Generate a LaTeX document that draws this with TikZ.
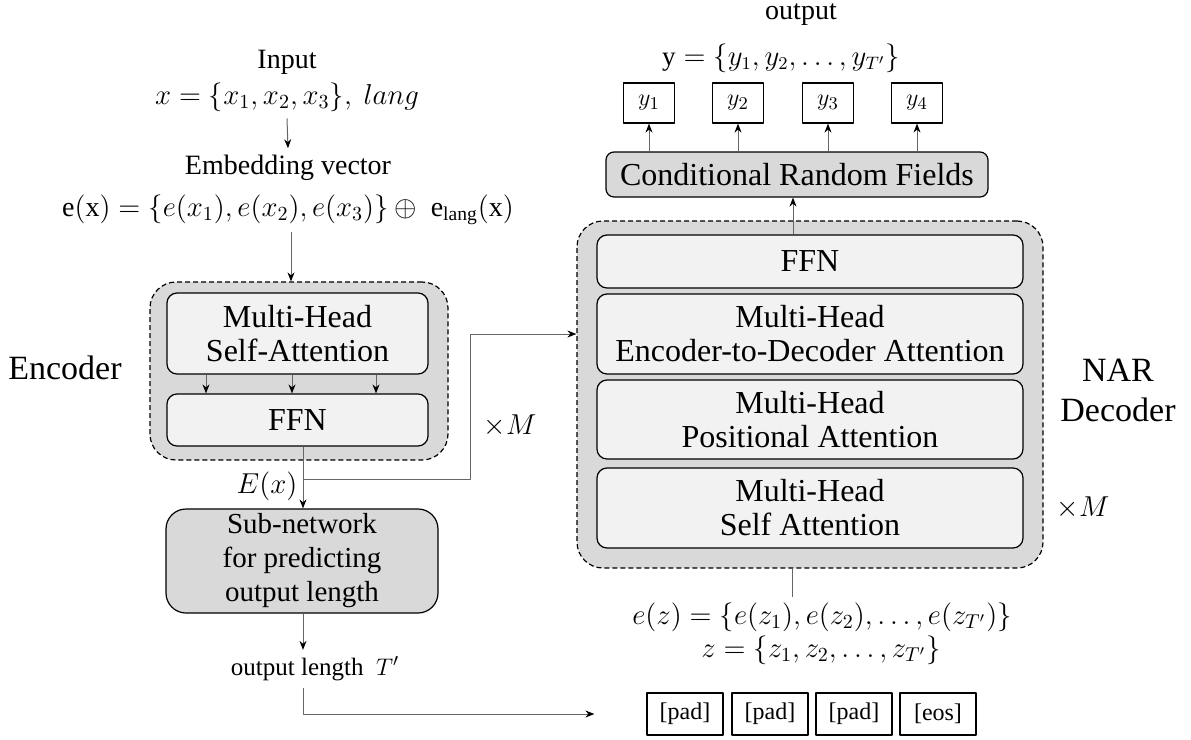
\documentclass[tikz,border=0pt]{standalone}
\usepackage{fontspec}
\setmainfont{Liberation Serif}
\usetikzlibrary{arrows.meta}
\definecolor{outgray}{HTML}{D9D9D9}
\definecolor{ingray}{HTML}{F2F2F2}
\definecolor{wiregray}{HTML}{666666}
\begin{document}
\begin{tikzpicture}[x=0.5pt, y=-0.5pt, font=\fontsize{14}{17}\selectfont, line join=round, >={Stealth[length=4.5pt,width=3.5pt,color=black]},
  block/.style={draw, line width=0.6pt, rounded corners=5pt, fill=ingray, align=center, inner sep=0pt, font=\fontsize{16}{17}\selectfont},
  gblock/.style={block, fill=outgray},
  stack/.style={draw, dash pattern=on 2.5pt off 1.5pt, line width=0.6pt, rounded corners=13pt, fill=outgray, inner sep=0pt},
  tok/.style={draw, line width=0.6pt, inner sep=0pt, fill=white},
  wire/.style={draw=wiregray, line width=0.5pt},
  big/.style={font=\fontsize{17}{20}\selectfont, align=center}]
\useasboundingbox (0,0) rectangle (1191,740);

\node (input) at (287,62) {Input};
\node (xin) at (287,97) {$x=\{x_1,x_2,x_3\},\ lang$};
\node (embtitle) at (288,168) {Embedding vector};
\node (emb) at (288,210) {$\mathrm{e}(\mathrm{x})=\{e(x_1),e(x_2),e(x_3)\}\oplus\ \mathrm{e}_{\mathrm{lang}}(\mathrm{x})$};

\node[stack, minimum width=149pt, minimum height=89pt] (enc) at (299,371) {};
\node[block, minimum width=130.5pt, minimum height=40.5pt] (mhsa) at (297.5,333.5) {Multi-Head\\Self-Attention};
\node[block, minimum width=130.5pt, minimum height=26pt] (effn) at (297.5,420) {FFN};
\node[big] (enclabel) at (65,368) {Encoder};
\node (ex) at (267,486) {$E(x)$};
\node (xm1) at (510,426) {$\times M$};
\node[gblock, rounded corners=10pt, minimum width=136pt, minimum height=52pt, font=\fontsize{14.5}{17}\selectfont] (sub) at (302,561) {Sub-network\\for predicting\\output length};
\node[font=\fontsize{12.5}{14}\selectfont] (lenout) at (315,669) {output length~~$T'$};

\node[stack, minimum width=233pt, minimum height=173.5pt] (dec) at (810,394.5) {};
\node[block, minimum width=213pt, minimum height=26.5pt] (dffn) at (810,261.5) {FFN};
\node[block, minimum width=213pt, minimum height=40pt] (encdec) at (810,334) {Multi-Head\\Encoder-to-Decoder Attention};
\node[block, minimum width=213pt, minimum height=39.5pt] (pos) at (810,419.5) {Multi-Head\\Positional Attention};
\node[block, minimum width=213pt, minimum height=40pt] (self) at (810,508) {Multi-Head\\Self Attention};
\node[big] (nar) at (1118,390) {NAR\\Decoder};
\node (xm2) at (1083,508) {$\times M$};

\node[gblock, rounded corners=4pt, minimum width=191pt, minimum height=22.5pt] (crf) at (797,174.5) {Conditional Random Fields};
\foreach \i/\x in {1/649,2/738,3/828,4/917}
  \node[tok, minimum width=25.5pt, minimum height=20pt, font=\fontsize{13}{15}\selectfont] (y\i) at (\x,103) {$y_\i$};
\node[font=\fontsize{13.5}{15}\selectfont] (yeq) at (781,58) {$\mathrm{y}=\{y_1,y_2,\ldots,y_{T'}\}$};
\node[inner sep=1pt] (output) at (801,15) {output};

\node[inner sep=0pt] (ez) at (822,617) {$e(z)=\{e(z_1),e(z_2),\ldots,e(z_{T'})\}$};
\node[inner sep=0pt] (zeq) at (821,650) {$z=\{z_1,z_2,\ldots,z_{T'}\}$};
\foreach \i/\x/\t in {1/685/pad,2/770/pad,3/854/pad,4/938/eos}
  \node[tok, minimum width=38pt, minimum height=21pt, font=\fontsize{12}{14}\selectfont] (pad\i) at (\x,714) {[\t]};

\draw[wire, ->] (xin.south) -- (embtitle.north);
\draw[wire, ->] ([xshift=1.5pt]emb.south) -- ([xshift=1.5pt]emb.south |- enc.north);
\foreach \dx in {-45.75,-2.75,39.25}
  \draw[wire, ->] ([xshift=\dx pt]mhsa.south) -- ([xshift=\dx pt]effn.north);
\draw[wire, ->] ([xshift=2.75pt]effn.south) -- ([xshift=2.75pt]effn.south |- sub.north);
\coordinate (split) at (303,479);
\coordinate (bend) at (470,479);
\draw[wire, ->] (split) -- (bend) |- (dec.west |- encdec.west);
\draw[wire, ->] (split |- sub.south) -- (split |- lenout.north);
\coordinate (lenbend) at (303,714);
\draw[wire, ->] (split |- lenout.south) -- (lenbend) -- ([xshift=-26pt]pad1.west);
\draw[wire] ([xshift=-9pt]dec.south) -- ([xshift=-9pt]dec.south |- 0,597);
\draw[wire, ->] ([xshift=-8.5pt]dffn.north) -- ([xshift=-8.5pt]dffn.north |- crf.south);
\foreach \i in {1,...,4}
  \draw[wire, ->] (crf.north -| y\i.south) -- (y\i.south);
\end{tikzpicture}
\end{document}
